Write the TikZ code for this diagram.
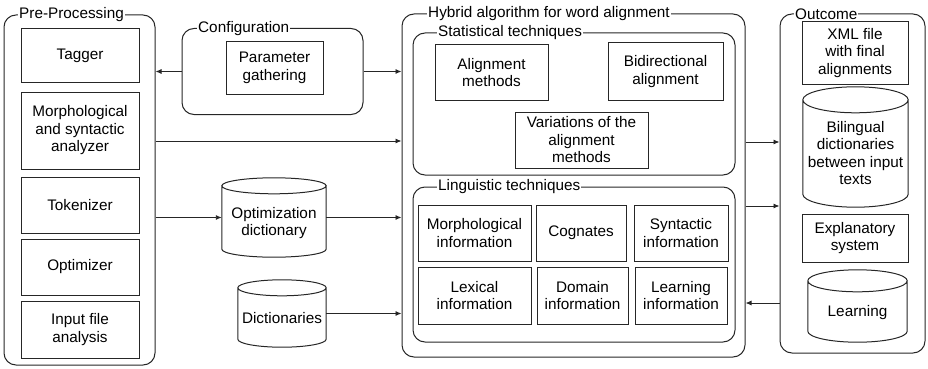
\documentclass[tikz,border=0pt]{standalone}
\usepackage{fontspec}
\setmainfont{Liberation Sans}
\usetikzlibrary{calc,arrows.meta}
\newcommand\fs{\fontsize{15.3}{17.5}\selectfont}
\newcommand\cylout[2]{%
  \draw[cylline] let \p1=(#1.north west), \p2=(#1.south east), \n1={(\x2-\x1)/2} in
    (\x1,\y1-#2pt) -- (\x1,\y2+#2pt) arc[start angle=180,end angle=360,x radius=\n1,y radius=#2pt]
    -- (\x2,\y1-#2pt)
    (\x1+\n1,\y1-#2pt) ellipse[x radius=\n1,y radius=#2pt];}
\tikzset{
  lw/.style={line width=1pt, draw=black!85},
  box/.style={lw, inner sep=0pt, align=center, font=\fs},
  cont/.style={lw, rounded corners=12pt, inner sep=0pt},
  ttl/.style={fill=white, inner sep=1pt, anchor=west, font=\fs},
  cyl/.style={inner sep=0pt, align=center, font=\fs},
  cylline/.style={lw},
  arr/.style={line width=0.9pt, draw=black!85, -{Latex[length=6pt,width=5pt]}},
}
\begin{document}
\begin{tikzpicture}[x=1pt,y=-1pt]
\useasboundingbox (0,0) rectangle (928,369);
% Pre-Processing
\node[cont, minimum width=151, minimum height=350] (pre) at (79.5,190) {};
\node[ttl] (pret) at (18,15) {Pre-Processing};
\node[box, minimum width=118, minimum height=53] (tag) at (80,55.5) {Tagger};
\node[box, minimum width=118, minimum height=77] (msa) at (80,130.5) {Morphological\\and syntactic\\analyzer};
\node[box, minimum width=118, minimum height=56] (tok) at (80,205) {Tokenizer};
\node[box, minimum width=118, minimum height=56] (opt) at (80,267) {Optimizer};
\node[box, minimum width=118, minimum height=57] (inp) at (80,329.5) {Input file\\analysis};
% Configuration
\node[cont, minimum width=181, minimum height=86] (cfg) at (272.5,71.5) {};
\node[ttl] (cfgt) at (197,28.5) {Configuration};
\node[box, minimum width=97, minimum height=52] (par) at (274.5,68) {Parameter\\gathering};
% cylinders
\node[cyl, minimum width=104, minimum height=79] (od) at (274,217.5) {};
\cylout{od}{8}
\node[cyl] (odt) at (274,223) {Optimization\\dictionary};
\node[cyl, minimum width=88, minimum height=67] (dict) at (282,313.5) {};
\cylout{dict}{8}
\node[cyl] (dictt) at (282,318) {Dictionaries};
% Hybrid
\node[cont, minimum width=343, minimum height=343] (hyb) at (573.5,185.5) {};
\node[ttl] (hybt) at (427,14) {Hybrid algorithm for word alignment};
\node[cont, minimum width=322, minimum height=142] (stat) at (574,104) {};
\node[ttl] (statt) at (437,33) {Statistical techniques};
\node[box, minimum width=113, minimum height=55] (am) at (491.5,72.5) {Alignment\\methods};
\node[box, minimum width=115, minimum height=57] (ba) at (665.5,71.5) {Bidirectional\\alignment};
\node[box, minimum width=133, minimum height=56] (var) at (581.5,140) {Variations of the\\alignment\\methods};
\node[cont, minimum width=322, minimum height=155] (ling) at (574,264.5) {};
\node[ttl] (lingt) at (437,187) {Linguistic techniques};
\node[box, minimum width=113, minimum height=56] (mi) at (474.5,233) {Morphological\\information};
\node[box, minimum width=90, minimum height=56] (cog) at (581,233) {Cognates};
\node[box, minimum width=94, minimum height=56] (si) at (681,233) {Syntactic\\information};
\node[box, minimum width=113, minimum height=57] (li) at (474.5,295.5) {Lexical\\information};
\node[box, minimum width=91, minimum height=57] (di) at (582.5,295.5) {Domain\\information};
\node[box, minimum width=92, minimum height=57] (lei) at (681,295.5) {Learning\\information};
% Outcome
\node[cont, minimum width=145, minimum height=339] (out) at (852.5,183.5) {};
\node[ttl] (outt) at (794,14) {Outcome};
\node[box, minimum width=106, minimum height=62] (xml) at (855,53) {XML file\\with final\\alignments};
\node[cyl, minimum width=105, minimum height=120] (bil) at (855.5,147) {};
\cylout{bil}{13}
\node[cyl] (bilt) at (855.5,153) {Bilingual\\dictionaries\\between input\\texts};
\node[box, minimum width=106, minimum height=48] (exp) at (855,238) {Explanatory\\system};
\node[cyl, minimum width=99, minimum height=72] (lrn) at (857.5,306) {};
\cylout{lrn}{11}
\node[cyl] (lrnt) at (857.5,313) {Learning};
% connectors
\draw[arr] (cfg.west) -- (cfg.west -| pre.east);
\draw[arr] (cfg.east) -- (cfg.east -| hyb.west);
\coordinate (a2) at (pre.east |- 0,141);
\draw[arr] (a2) -- (a2 -| hyb.west);
\draw[arr] (od.west -| pre.east) -- (od.west);
\draw[arr] (od.east) -- (od.east -| hyb.west);
\draw[arr] (dict.east) -- (dict.east -| hyb.west);
\coordinate (b1) at (hyb.east |- 0,142);
\draw[arr] (b1) -- (b1 -| out.west);
\coordinate (b2) at (hyb.east |- 0,206);
\draw[arr] (b2) -- (b2 -| out.west);
\coordinate (b3) at (out.west |- 0,303);
\draw[arr] (b3) -- (b3 -| hyb.east);
\end{tikzpicture}
\end{document}
